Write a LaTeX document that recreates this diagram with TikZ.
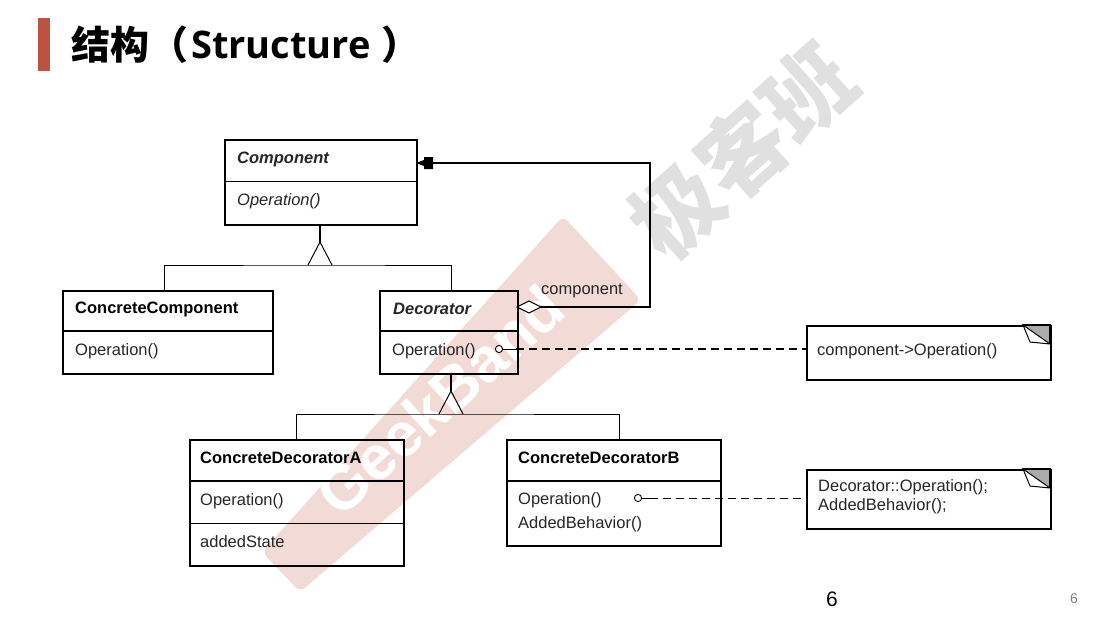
\documentclass[tikz,border=0pt]{standalone}
\usepackage{fontspec}
\setmainfont{Liberation Sans}
\newfontfamily\cjk{Noto Sans CJK SC}
\newfontfamily\titlefont{Open Sans}
\usetikzlibrary{calc}
\definecolor{wmred}{HTML}{F2DAD6}
\definecolor{wmgray}{HTML}{E0E0E0}
\definecolor{accent}{HTML}{BC5340}
\tikzset{
  x=1pt,y=-1pt,
  cell/.style={draw=black,line width=1.3pt,anchor=north west,inner sep=0pt,align=left,font=\fontsize{16.5}{22}\selectfont,text=black!85,text width=#1},
  hline/.style={draw=black,line width=1pt},
  bold line/.style={draw=black,line width=2pt},
  cellname/.style={font=\fontsize{16.5}{22}\selectfont\bfseries,text=black},
  celltext/.style={font=\fontsize{16.5}{20}\selectfont,text=black!85,anchor=west,inner sep=0pt},
  box/.style={draw=black,line width=1.5pt,fill=none,inner sep=0pt,anchor=north west},
}
\begin{document}
\begin{tikzpicture}
\useasboundingbox (0,0) rectangle (1113,642);
\fill[white] (0,0) rectangle (1113,642);
% watermark
\fill[wmred,rounded corners=7pt] (563,216) -- (641,300) -- (300,592) -- (262,552) -- cycle;
\node[rotate=42,text=white,font=\fontsize{62}{62}\selectfont\bfseries] (wm) at (440,400) {GeekBand};
\node[rotate=42,text=wmgray,font=\cjk\fontsize{88}{88}\selectfont\bfseries] (wm2) at (742,151) {极客班};
% title
\fill[accent] (38,18) rectangle (50,71);
\node[anchor=west,inner sep=0pt,font=\cjk\bfseries\fontsize{39}{39}\selectfont] (tt) at (71,45) {结构（};
\node[anchor=west,inner sep=0pt,font=\titlefont\bfseries\fontsize{38}{38}\selectfont] (tt2) at (191,45) {Structure};
\node[anchor=west,inner sep=0pt,font=\cjk\bfseries\fontsize{39}{39}\selectfont] (tt3) at (381,45) {）};
% Component
\node[box,minimum width=192pt,minimum height=85pt] (comp) at (224,139) {};
\coordinate (compd) at (224,181);
\draw[hline] (compd) -- (compd -| comp.east);
\node[celltext,font=\fontsize{16.5}{20}\selectfont\bfseries\itshape] (compn) at (237,159) {Component};
\node[celltext,font=\fontsize{16.5}{20}\selectfont\itshape] (compo) at (237,201) {Operation()};
% ConcreteComponent
\node[box,minimum width=210pt,minimum height=83pt] (cc) at (62,290) {};
\coordinate (ccd) at (62,331);
\draw[bold line,line width=1.5pt] (ccd) -- (ccd -| cc.east);
\node[celltext,cellname] (ccn) at (75,309) {ConcreteComponent};
\node[celltext] (cco) at (75,351) {Operation()};
% Decorator
\node[box,minimum width=138pt,minimum height=83pt] (dec) at (379,290) {};
\coordinate (decd) at (379,331);
\draw[bold line,line width=1.5pt] (decd) -- (decd -| dec.east);
\node[celltext,font=\fontsize{16.5}{20}\selectfont\bfseries\itshape] (decn) at (393,309) {Decorator};
\node[celltext] (deco) at (392,351) {Operation()};
% CDA
\node[box,minimum width=214pt,minimum height=126pt] (cda) at (189,439) {};
\coordinate (cdad) at (189,481);
\coordinate (cdae) at (189,523);
\draw[bold line,line width=1.5pt] (cdad) -- (cdad -| cda.east);
\draw[hline] (cdae) -- (cdae -| cda.east);
\node[celltext,cellname] (cdan) at (200,458) {ConcreteDecoratorA};
\node[celltext] (cdao) at (200,501) {Operation()};
\node[celltext] (cdaf) at (200,542) {addedState};
% CDB
\node[box,minimum width=214pt,minimum height=106pt] (cdb) at (506,439) {};
\coordinate (cdbd) at (506,481);
\draw[bold line,line width=1.5pt] (cdbd) -- (cdbd -| cdb.east);
\node[celltext,cellname] (cdbn) at (518,458) {ConcreteDecoratorB};
\node[celltext] (cdbo) at (518,500) {Operation()};
\node[celltext] (cdbb) at (518,524) {AddedBehavior()};
% Notes
\node[box,minimum width=244pt,minimum height=54pt] (n1) at (806,325) {};
\node[celltext] (n1t) at (817,351) {component{-}>Operation()};
\node[box,minimum width=244pt,minimum height=59pt] (n2) at (806,469) {};
\node[celltext,align=left,font=\fontsize{16.5}{19}\selectfont] (n2t) at (818,497) {Decorator::Operation();\\AddedBehavior();};
% dog-ears
\foreach \o/\n in {325/a,469/b}{
  \fill[black!33] (1023,\o) -- (1050,\o) -- (1050,\o+19) -- cycle;
  \fill[white,draw=black,line width=1pt] (1023,\o) -- (1050,\o+19) -- (1030,\o+17) -- cycle;
  \draw[black,line width=1.5pt] (1023,\o) -- (1050,\o) -- (1050,\o+19);
}
% inheritance Component
\coordinate (tri1) at (320,242);
\coordinate (bar1) at (320,265);
\draw[line width=1.5pt] (comp.south -| tri1) -- (tri1);
\draw[line width=1pt] ($(bar1)+(-12,0)$) -- (tri1) -- ($(bar1)+(12,0)$);
\draw[line width=1pt] (cc.north -| 164,0) |- (bar1) -| (dec.north -| 451,0);
% inheritance Decorator
\coordinate (tri2) at (451,391);
\coordinate (bar2) at (451,414);
\draw[line width=1.5pt] (dec.south -| tri2) -- (tri2);
\draw[line width=1pt] ($(bar2)+(-12,0)$) -- (tri2) -- ($(bar2)+(12,0)$);
\draw[line width=1pt] (cda.north -| 296,0) |- (bar2) -| (cdb.north -| 619,0);
% aggregation
\coordinate (agg) at (517,307);
\coordinate (aggr) at (541,307);
\coordinate (turn) at (650,307);
\coordinate (top) at (650,163);
\coordinate (tip) at (416,163);
\draw[line width=1pt,fill=white] (agg) -- (529,301) -- (aggr) -- (529,313) -- cycle;
\draw[line width=1.6pt] (aggr) -- (turn) -- (top) -- (tip);
\fill[black] (tip) -- (424,160) -- (424,157) -- (433,157) -- (433,169) -- (424,169) -- (424,166) -- cycle;
\node[celltext,font=\fontsize{16.5}{20}\selectfont] (cl) at (541,291) {component};
% notes links
\coordinate (o1) at (499,349);
\coordinate (o2) at (638,498);
\draw[line width=0.9pt,fill=white] (o1) circle (3.6pt);
\draw[line width=0.9pt,fill=white] (o2) circle (3.6pt);
\draw[line width=1pt] (503,349) -- (516,349);
\draw[line width=1pt] (642,498) -- (650,498);
\draw[line width=1.5pt,dash pattern=on 8pt off 5pt] (516,349) -- (n1.west |- 0,349);
\draw[line width=1pt,dash pattern=on 8pt off 5pt] (650,498) -- (n2.west |- 0,498);
% page numbers
\node[inner sep=0pt,font=\fontsize{21}{21}\selectfont] (p1) at (832,599) {6};
\node[inner sep=0pt,text=black!50,font=\fontsize{14}{14}\selectfont] (p2) at (1074,599) {6};
\end{tikzpicture}
\end{document}
